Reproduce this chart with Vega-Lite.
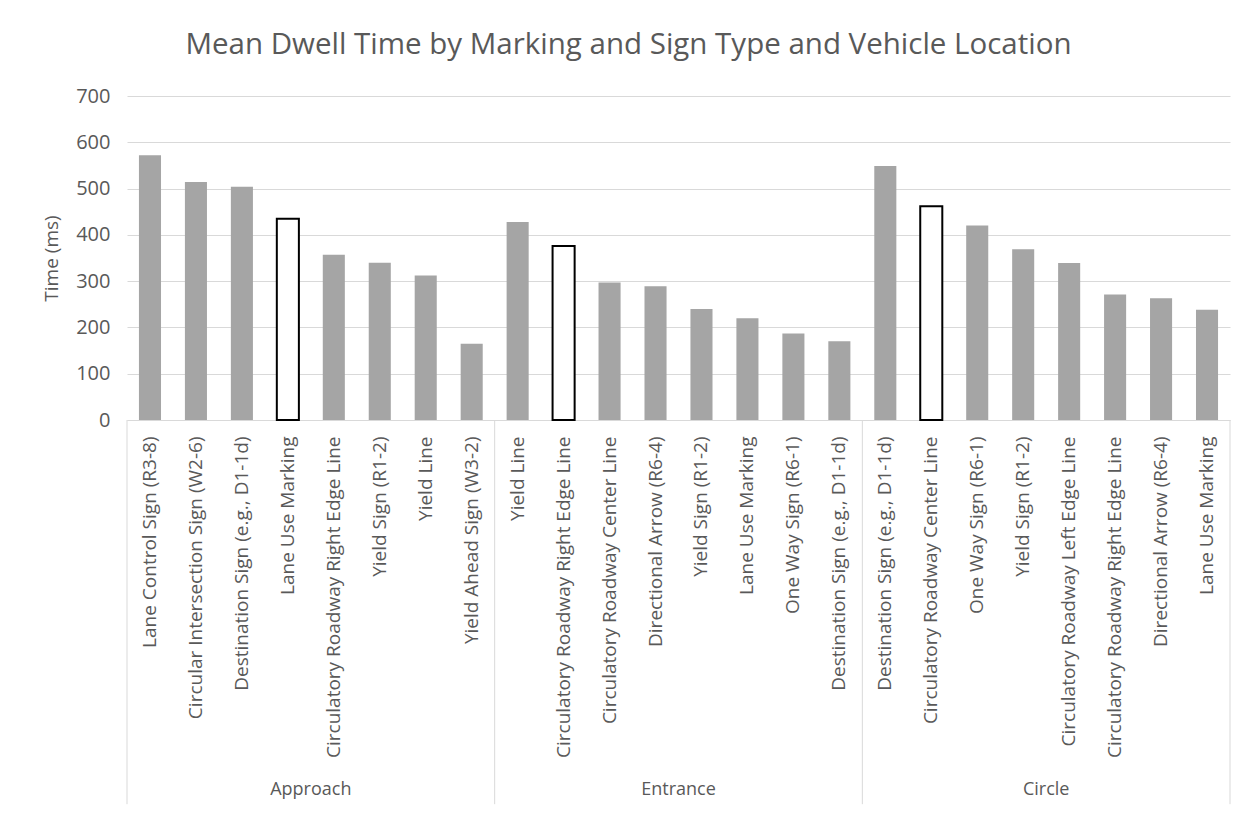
{
  "$schema": "https://vega.github.io/schema/vega-lite/v6.json",
  "width": 1103,
  "height": 324,
  "autosize": "none",
  "padding": {"left": 127, "top": 96, "right": 20, "bottom": 393},
  "background": "white",
  "title": {
    "text": "Mean Dwell Time by Marking and Sign Type and Vehicle Location",
    "font": "Open Sans",
    "fontSize": 29.5,
    "fontWeight": "normal",
    "color": "#595959",
    "anchor": "middle",
    "dx": -50,
    "offset": 26
  },
  "config": {"view": {"stroke": null}, "font": "Open Sans"},
  "datasets": {
    "bars": [
      {"loc": "Approach", "marker": "Lane Control Sign (R3-8)", "time": 572, "style": "filled"},
      {"loc": "Approach", "marker": "Circular Intersection Sign (W2-6)", "time": 514, "style": "filled"},
      {"loc": "Approach", "marker": "Destination Sign (e.g., D1-1d)", "time": 504, "style": "filled"},
      {"loc": "Approach", "marker": "Lane Use Marking", "time": 435, "style": "outlined"},
      {"loc": "Approach", "marker": "Circulatory Roadway Right Edge Line", "time": 357, "style": "filled"},
      {"loc": "Approach", "marker": "Yield Sign (R1-2)", "time": 340, "style": "filled"},
      {"loc": "Approach", "marker": "Yield Line", "time": 312, "style": "filled"},
      {"loc": "Approach", "marker": "Yield Ahead Sign (W3-2)", "time": 165, "style": "filled"},
      {"loc": "Entrance", "marker": "Yield Line", "time": 428, "style": "filled"},
      {"loc": "Entrance", "marker": "Circulatory Roadway Right Edge Line", "time": 376, "style": "outlined"},
      {"loc": "Entrance", "marker": "Circulatory Roadway Center Line", "time": 297, "style": "filled"},
      {"loc": "Entrance", "marker": "Directional Arrow (R6-4)", "time": 289, "style": "filled"},
      {"loc": "Entrance", "marker": "Yield Sign (R1-2)", "time": 240, "style": "filled"},
      {"loc": "Entrance", "marker": "Lane Use Marking", "time": 220, "style": "filled"},
      {"loc": "Entrance", "marker": "One Way Sign (R6-1)", "time": 187, "style": "filled"},
      {"loc": "Entrance", "marker": "Destination Sign (e.g., D1-1d)", "time": 170, "style": "filled"},
      {"loc": "Circle", "marker": "Destination Sign (e.g., D1-1d)", "time": 549, "style": "filled"},
      {"loc": "Circle", "marker": "Circulatory Roadway Center Line", "time": 462, "style": "outlined"},
      {"loc": "Circle", "marker": "One Way Sign (R6-1)", "time": 420, "style": "filled"},
      {"loc": "Circle", "marker": "Yield Sign (R1-2)", "time": 369, "style": "filled"},
      {"loc": "Circle", "marker": "Circulatory Roadway Left Edge Line", "time": 339, "style": "filled"},
      {"loc": "Circle", "marker": "Circulatory Roadway Right Edge Line", "time": 271, "style": "filled"},
      {"loc": "Circle", "marker": "Directional Arrow (R6-4)", "time": 263, "style": "filled"},
      {"loc": "Circle", "marker": "Lane Use Marking", "time": 238, "style": "filled"}
    ],
    "dividers": [{"pos": 0}, {"pos": 8}, {"pos": 16}, {"pos": 24}],
    "groups": [
      {"name": "Approach", "center": 4},
      {"name": "Entrance", "center": 12},
      {"name": "Circle", "center": 20}
    ]
  },
  "resolve": {"scale": {"x": "independent"}},
  "layer": [
    {
      "data": {"name": "bars"},
      "transform": [{"calculate": "datum.loc + '|' + datum.marker", "as": "key"}],
      "mark": {"type": "bar", "strokeWidth": 2},
      "encoding": {
        "x": {
          "field": "key",
          "type": "nominal",
          "sort": null,
          "scale": {"paddingInner": 0.52, "paddingOuter": 0.26},
          "axis": {
            "title": null,
            "labelExpr": "split(datum.value, '|')[1]",
            "labelAngle": -90,
            "labelFont": "Open Sans",
            "labelFontSize": 19,
            "labelColor": "#595959",
            "labelPadding": 16,
            "labelLimit": 500,
            "ticks": false,
            "domainColor": "#d9d9d9",
            "domainWidth": 1
          }
        },
        "y": {
          "field": "time",
          "type": "quantitative",
          "scale": {"domain": [0, 700], "nice": false},
          "axis": {
            "title": "Time (ms)",
            "values": [0, 100, 200, 300, 400, 500, 600, 700],
            "titleFont": "Open Sans",
            "titleFontSize": 19,
            "titleFontWeight": "normal",
            "titleColor": "#595959",
            "titlePadding": 14,
            "labelFont": "Open Sans",
            "labelFontSize": 20,
            "labelColor": "#595959",
            "labelPadding": 17,
            "domain": false,
            "ticks": false,
            "gridColor": "#d9d9d9",
            "gridWidth": 1
          }
        },
        "fill": {
          "field": "style",
          "type": "nominal",
          "scale": {"domain": ["filled", "outlined"], "range": ["#a5a5a5", "#ffffff"]},
          "legend": null
        },
        "stroke": {
          "field": "style",
          "type": "nominal",
          "scale": {"domain": ["filled", "outlined"], "range": ["rgba(0,0,0,0)", "#000000"]},
          "legend": null
        }
      }
    },
    {
      "data": {"name": "dividers"},
      "mark": {"type": "rule", "color": "#d9d9d9", "strokeWidth": 1},
      "encoding": {
        "x": {"field": "pos", "type": "quantitative", "scale": {"domain": [0, 24], "nice": false, "zero": false}, "axis": null},
        "y": {"datum": 0, "type": "quantitative", "scale": {"domain": [0, 700], "nice": false}},
        "y2": {"datum": -830}
      }
    },
    {
      "data": {"name": "groups"},
      "mark": {"type": "text", "font": "Open Sans", "fontSize": 18, "color": "#595959", "baseline": "middle", "align": "center"},
      "encoding": {
        "x": {"field": "center", "type": "quantitative", "scale": {"domain": [0, 24], "nice": false, "zero": false}, "axis": null},
        "y": {"datum": -800, "type": "quantitative", "scale": {"domain": [0, 700], "nice": false}},
        "text": {"field": "name"}
      }
    }
  ]
}
